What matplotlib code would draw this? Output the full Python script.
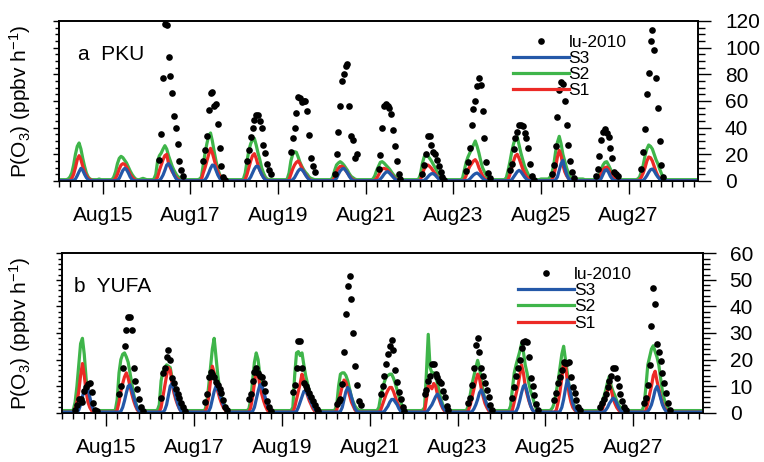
import numpy as np
import pandas as pd
import matplotlib
matplotlib.use("Agg")
import matplotlib.pyplot as plt
import matplotlib.dates as mdates

plt.rcParams['font.family'] = ['Liberation Sans', 'DejaVu Sans']
plt.rcParams['mathtext.fontset'] = 'custom'
plt.rcParams['mathtext.rm'] = 'Liberation Sans'
plt.rcParams['mathtext.it'] = 'Liberation Sans'

# ---------------- data (hourly, starting 2010-08-14 00:00) ----------------
start_time = "2010-08-14 00:00"
series_labels = ["S3", "S2", "S1"]
obs_label = "lu-2010"
panel_titles = ["a  PKU", "b  YUFA"]

# PKU model, one row per day (24 hourly values)
s2_pku_rows = [
    "1 1 1 1 1 1.5 3 6 12 20 26 28.5 24 17 11 6 3 1.5 1 1 1 1 1.5 1",
    "1 1 1 1 1 1 3 7 13 17 18.5 17.5 15.5 13.5 10.5 7.5 5 3 1.5 1 1 1.5 2 1.5",
    "1 1 1 1 1.5 5 15 19 21 24 26.5 24 19 15 11 8 5.5 3.5 2.5 2 1 1 1 1",
    "1 1 1 1 1 1.5 3 12 21 28 34 36 30 22 15 9 5 2.5 1.5 1 1 1 1 1",
    "1 1 1 1 1 1.5 6 15 23 28 31 32 27 21 16 10 6 3 1.5 1 1 1 1 1",
    "1 1 1 1 1 1.5 6 15 20 22 21.5 18 14 11 8.5 6.5 5 3 2 1.5 1 1 1 1",
    "1 1 1 1 1 1 3 8 12 13.5 14.5 13.5 12 10 8 5.5 3.5 2.5 1.5 1 1 1 1 1",
    "1 1 1 1 1.5 4 8 11 14 14.5 13.5 12 10.5 9 7 5 3.5 2.5 2 1.5 1 1 1 1",
    "1 1 1 1 1 1.5 5 13 18 20 19 17 15 12.5 10 7.5 5 3.5 2 1.5 1 1 1 1",
    "1 1 1 1 1 2 8 14 18 21 24 27 30 26 21 15 10 7 4 2.5 1.5 1 1 1",
    "1 1 1 1 1 2.5 8 14.5 22 28 32 33 27 21 16 11 8 5 3 1.5 1 1 1 1",
    "1.5 1.5 1.5 1.5 1.5 3 6 12 22 29 33.5 28 20 15 10 6 3 2 1.5 1.5 1.5 1.5 1.5 1.5",
    "1 1 1 1 1 1 1.5 2.5 5 8.5 12 14 14.5 12 9 6 4 2.5 1.5 1 1 1 1 1",
    "1 1 1 1 1 1.5 3 7 12 19 24 27 26 24 20 16 13 9 5.5 2.5 1.5 1 1 1",
    "1 1 1 1 1 1 1 1 1 1 1 1 1 1 1 1 1 1 1 1 1 1 1 1",
]
s1_pku_rows = [
    "0.3 0.3 0.3 0.3 0.3 0.3 0.5 2 5 10 16 19 16 11 7 4 2 1 0.5 0.3 0.3 0.3 0.3 0.3",
    "0.3 0.3 0.3 0.3 0.3 0.3 0.5 2 5 9 12 13 12.5 10.5 8 5 3 1.5 0.5 0.3 0.3 0.3 0.3 0.3",
    "0.3 0.3 0.3 0.3 0.3 0.5 3 8 12 16 19 20 13 10 7 5 3 1.5 0.5 0.3 0.3 0.3 0.3 0.3",
    "0.3 0.3 0.3 0.3 0.3 0.3 1 6 10 15 20 24.5 21 16 11 7 4 2 0.5 0.3 0.3 0.3 0.3 0.3",
    "0.3 0.3 0.3 0.3 0.3 0.3 1 5 10 15 19 20.5 17 12 8 5 3 1 0.5 0.3 0.3 0.3 0.3 0.3",
    "0.3 0.3 0.3 0.3 0.3 0.3 1 5 9 12 14 15 13 10 7 5 3 1.5 0.5 0.3 0.3 0.3 0.3 0.3",
    "0.3 0.3 0.3 0.3 0.3 0.3 0.5 3 7 9.5 11 11 10 8 6 4 2 1 0.5 0.3 0.3 0.3 0.3 0.3",
    "0.3 0.3 0.3 0.3 0.3 0.5 2 4.5 7 9 9.5 9 8 6.5 5 3.5 2 1 0.5 0.3 0.3 0.3 0.3 0.3",
    "0.3 0.3 0.3 0.3 0.3 0.3 1 5 9 11 12 11 9.5 7.5 5.5 3.5 2 1 0.5 0.3 0.3 0.3 0.3 0.3",
    "0.3 0.3 0.3 0.3 0.3 0.3 1 4 8 11 13 15 16 14 10 7 4 2 1 0.5 0.3 0.3 0.3 0.3",
    "0.3 0.3 0.3 0.3 0.3 0.3 1 5 10 15 19 20 17 13 9 6 3.5 2 0.5 0.3 0.3 0.3 0.3 0.3",
    "0.3 0.3 0.3 0.3 0.3 0.3 1 4 10 18 23 19 12 7 4 2 1 0.5 0.3 0.3 0.3 0.3 0.3 0.3",
    "0.3 0.3 0.3 0.3 0.3 0.3 0.3 1 3 6 8.5 10 10.5 9 6 3.5 2 1 0.5 0.3 0.3 0.3 0.3 0.3",
    "0.3 0.3 0.3 0.3 0.3 0.3 1 3 6 10 15 18 17.5 15 11 7 4 2 1 0.5 0.3 0.3 0.3 0.3",
    "0.3 0.3 0.3 0.3 0.3 0.3 0.3 0.3 0.3 0.3 0.3 0.3 0.3 0.3 0.3 0.3 0.3 0.3 0.3 0.3 0.3 0.3 0.3 0.3",
]
s3_pku_rows = [
    "0.2 0.2 0.2 0.2 0.2 0.2 0.2 0.2 0.5 1.5 4 7 9.5 8 5 2.5 1 0.3 0.2 0.2 0.2 0.2 0.2 0.2",
    "0.2 0.2 0.2 0.2 0.2 0.2 0.2 0.2 0.5 2 5 8 9.5 8.5 6 3 1 0.3 0.2 0.2 0.2 0.2 0.2 0.2",
    "0.2 0.2 0.2 0.2 0.2 0.2 0.2 0.5 2 4.5 8 12 13 11 8 4.5 2 0.5 0.2 0.2 0.2 0.2 0.2 0.2",
    "0.2 0.2 0.2 0.2 0.2 0.2 0.2 0.2 1 3 6 9.5 12 11.5 8 4.5 2 0.5 0.2 0.2 0.2 0.2 0.2 0.2",
    "0.2 0.2 0.2 0.2 0.2 0.2 0.2 0.2 1 3 6 9 11 11 8 5 2.5 1 0.3 0.2 0.2 0.2 0.2 0.2",
    "0.2 0.2 0.2 0.2 0.2 0.2 0.2 0.2 1 2.5 5 7.5 9 8.5 7 4.5 2.5 1 0.3 0.2 0.2 0.2 0.2 0.2",
    "0.2 0.2 0.2 0.2 0.2 0.2 0.2 0.5 2 5 7.5 9 9.5 8 6 3.5 1.5 0.5 0.2 0.2 0.2 0.2 0.2 0.2",
    "0.2 0.2 0.2 0.2 0.2 0.2 0.2 0.5 1.5 3 5 6.5 7 6 4.5 3 1.5 0.5 0.2 0.2 0.2 0.2 0.2 0.2",
    "0.2 0.2 0.2 0.2 0.2 0.2 0.2 0.2 0.5 1.5 3 4.5 5.5 5.5 4.5 3 1.5 0.5 0.2 0.2 0.2 0.2 0.2 0.2",
    "0.2 0.2 0.2 0.2 0.2 0.2 0.2 0.2 0.5 1.5 3 4.5 5.5 6 5 3.5 2 0.8 0.3 0.2 0.2 0.2 0.2 0.2",
    "0.2 0.2 0.2 0.2 0.2 0.2 0.2 0.2 1 3 5 7 8 7 5 3 1.5 0.5 0.2 0.2 0.2 0.2 0.2 0.2",
    "0.2 0.2 0.2 0.2 0.2 0.2 0.2 0.2 1 3 8 13 15.5 10 5 2 0.8 0.3 0.2 0.2 0.2 0.2 0.2 0.2",
    "0.2 0.2 0.2 0.2 0.2 0.2 0.2 0.2 0.5 2 5 8 8.5 6.5 3.5 1.5 0.5 0.2 0.2 0.2 0.2 0.2 0.2 0.2",
    "0.2 0.2 0.2 0.2 0.2 0.2 0.2 0.2 0.5 2 4 6.5 8.5 9 7.5 5 3 1.5 0.5 0.2 0.2 0.2 0.2 0.2",
    "0.2 0.2 0.2 0.2 0.2 0.2 0.2 0.2 0.2 0.2 0.2 0.2 0.2 0.2 0.2 0.2 0.2 0.2 0.2 0.2 0.2 0.2 0.2 0.2",
]

# YUFA model
s2_yufa_rows = [
    "0.8 0.8 0.8 0.8 0.8 0.8 1 4 10 18 26 28 22 13 7 3.5 1.5 1 0.8 0.8 0.8 0.8 0.8 0.8",
    "0.8 0.8 0.8 0.8 0.8 1 5 15 20 22 22.5 21 19 15 11 7 4 2 1 0.8 0.8 0.8 0.8 0.8",
    "0.8 0.8 0.8 0.8 1 3 12 15.5 17 18 17.5 17 13 9.5 7 5.5 4 2.5 1.5 1 0.8 0.8 0.8 0.8",
    "0.8 0.8 0.8 0.8 0.8 0.8 1 4 10 17 24 28 21 14 9 6 4 2.5 1.5 1 0.8 0.8 0.8 0.8",
    "0.8 0.8 0.8 0.8 0.8 0.8 1.5 5 12 19 22.5 20 14 10 6 4 2 1 0.8 0.8 0.8 0.8 0.8 0.8",
    "0.8 0.8 0.8 0.8 0.8 0.8 2 14 22.5 23 21.5 22.5 18 14 11 8 6 4.5 3 1.5 1 0.8 0.8 0.8",
    "0.8 0.8 0.8 0.8 0.8 1 3 10 14.5 15 15 14 12 9 6 4 2.5 1.5 1 0.8 0.8 0.8 0.8 0.8",
    "0.8 0.8 0.8 0.8 0.8 2 6 9 11.5 13.5 14 14.5 14.5 13 11 8.5 6 4 2 1 0.8 0.8 0.8 0.8",
    "0.8 0.8 0.8 0.8 0.8 1 2 15 29.5 17 15 15 14 11 8 5 3 1.5 1 0.8 0.8 0.8 0.8 0.8",
    "0.8 0.8 0.8 0.8 0.8 1 3 7 11 14 17 19.7 17 12 8 5 3 1.5 1 0.8 0.8 0.8 0.8 0.8",
    "0.8 0.8 0.8 0.8 0.8 2.5 9 15 18 20.5 23 26 23 18 15 11 8 6 3.5 1.5 1 0.8 0.8 0.8",
    "0.8 0.8 0.8 1 2 4 8 12 17 22 25 20 15 10 6.5 4 2.5 1.5 1 0.8 0.8 0.8 0.8 0.8",
    "0.8 0.8 0.8 0.8 0.8 1 2 4 6 8.5 11.5 13.7 10 8 6.5 4.5 3 2 1 0.8 0.8 0.8 0.8 0.8",
    "0.8 0.8 0.8 0.8 0.8 1 3 10 18 21 24 25.2 23 21 18 13 8 5 3 1.5 1 0.8 0.8 0.8",
    "0.8 0.8 0.8 0.8 0.8 0.8 0.8 0.8 0.8 0.8 0.8 0.8 0.8 0.8 0.8 0.8 0.8 0.8 0.8 0.8 0.8 0.8 0.8 0.8",
]
s1_yufa_rows = [
    "0.2 0.2 0.2 0.2 0.2 0.2 0.2 1.5 4 8 14 18.5 14 8 4 2 0.8 0.3 0.2 0.2 0.2 0.2 0.2 0.2",
    "0.2 0.2 0.2 0.2 0.2 0.2 1 4 8 11 13.5 15 13 10 7 4.5 2.5 1 0.3 0.2 0.2 0.2 0.2 0.2",
    "0.2 0.2 0.2 0.2 0.2 0.2 2 6 10 14 17 16 11 7.5 5 3 1.5 0.5 0.2 0.2 0.2 0.2 0.2 0.2",
    "0.2 0.2 0.2 0.2 0.2 0.2 0.2 2 6 12 17.5 15 11 8 5.5 3.5 2 1 0.3 0.2 0.2 0.2 0.2 0.2",
    "0.2 0.2 0.2 0.2 0.2 0.2 0.2 2 6 11 16 15 10 7 4.5 2.5 1 0.3 0.2 0.2 0.2 0.2 0.2 0.2",
    "0.2 0.2 0.2 0.2 0.2 0.2 0.2 2 5 8 11 14.5 12 9 6.5 4.5 3 1.5 0.5 0.2 0.2 0.2 0.2 0.2",
    "0.2 0.2 0.2 0.2 0.2 0.2 1 4 7 10 12.3 11.5 9 6.5 4 2.5 1 0.3 0.2 0.2 0.2 0.2 0.2 0.2",
    "0.2 0.2 0.2 0.2 0.2 0.2 1 3 5 7 8.5 9.5 9.5 8 6 4 2.5 1 0.3 0.2 0.2 0.2 0.2 0.2",
    "0.2 0.2 0.2 0.2 0.2 0.2 0.5 5 10 10 9 11 10 7 5 3 1.5 0.5 0.2 0.2 0.2 0.2 0.2 0.2",
    "0.2 0.2 0.2 0.2 0.2 0.2 1 3 6 9 12 14.5 13 9 6 3.5 2 0.8 0.2 0.2 0.2 0.2 0.2 0.2",
    "0.2 0.2 0.2 0.2 0.2 0.2 1 4 7 10 14 18 15 10 7 4.5 2.5 1 0.3 0.2 0.2 0.2 0.2 0.2",
    "0.2 0.2 0.2 0.2 0.2 0.2 1 4 8 13 19 18 12 7 4 2 1 0.3 0.2 0.2 0.2 0.2 0.2 0.2",
    "0.2 0.2 0.2 0.2 0.2 0.2 0.2 1 3 5.5 8.5 10.8 8.5 5.5 3.5 2 1 0.3 0.2 0.2 0.2 0.2 0.2 0.2",
    "0.2 0.2 0.2 0.2 0.2 0.2 0.2 1 3.5 7 10 14 15.6 12 9 6 3.5 2 1 0.3 0.2 0.2 0.2 0.2",
    "0.2 0.2 0.2 0.2 0.2 0.2 0.2 0.2 0.2 0.2 0.2 0.2 0.2 0.2 0.2 0.2 0.2 0.2 0.2 0.2 0.2 0.2 0.2 0.2",
]
s3_yufa_rows = [
    "0.2 0.2 0.2 0.2 0.2 0.2 0.2 0.2 0.2 1 3 6 8.5 9.5 9 6 3 1 0.3 0.2 0.2 0.2 0.2 0.2",
    "0.2 0.2 0.2 0.2 0.2 0.2 0.2 0.2 0.5 2 4.5 7.5 10 10.5 8.5 6 3.5 1.5 0.5 0.2 0.2 0.2 0.2 0.2",
    "0.2 0.2 0.2 0.2 0.2 0.2 0.2 0.2 1 3 6.5 10 11 9 6 3.5 1.5 0.5 0.2 0.2 0.2 0.2 0.2 0.2",
    "0.2 0.2 0.2 0.2 0.2 0.2 0.2 0.2 0.5 2 5 8 10 9 7 5 3 1.5 0.5 0.2 0.2 0.2 0.2 0.2",
    "0.2 0.2 0.2 0.2 0.2 0.2 0.2 0.2 0.5 2 5 8 10.5 10.5 8 5.5 3 1.5 0.5 0.2 0.2 0.2 0.2 0.2",
    "0.2 0.2 0.2 0.2 0.2 0.2 0.2 0.2 0.5 2 4 6 8 8.3 7 5.5 4 2.5 1.2 0.5 0.2 0.2 0.2 0.2",
    "0.2 0.2 0.2 0.2 0.2 0.2 0.2 0.2 0.5 2 5 8 9.5 8.5 6 3.5 1.5 0.5 0.2 0.2 0.2 0.2 0.2 0.2",
    "0.2 0.2 0.2 0.2 0.2 0.2 0.2 0.2 0.5 1.5 2.5 4 5 5 4 3 1.5 0.5 0.2 0.2 0.2 0.2 0.2 0.2",
    "0.2 0.2 0.2 0.2 0.2 0.2 0.2 0.2 1 2 3 4.5 6 7 6 4 2 1 0.3 0.2 0.2 0.2 0.2 0.2",
    "0.2 0.2 0.2 0.2 0.2 0.2 0.2 0.2 0.5 1.5 3 5 7.5 8.6 7 5 3 1.5 0.5 0.2 0.2 0.2 0.2 0.2",
    "0.2 0.2 0.2 0.2 0.2 0.2 0.2 0.2 0.5 2 4.5 7.5 10 10.5 8 5 2.5 1 0.3 0.2 0.2 0.2 0.2 0.2",
    "0.2 0.2 0.2 0.2 0.2 0.2 0.2 0.2 0.5 2 5 9 12.4 10 6.5 3.5 1.5 0.5 0.2 0.2 0.2 0.2 0.2 0.2",
    "0.2 0.2 0.2 0.2 0.2 0.2 0.2 0.2 0.3 1 2 3.5 4.5 5.5 5 3.5 2 0.8 0.3 0.2 0.2 0.2 0.2 0.2",
    "0.2 0.2 0.2 0.2 0.2 0.2 0.2 0.2 0.5 1.5 3 5.5 8.5 9.9 8 5.5 3 1.5 0.5 0.2 0.2 0.2 0.2 0.2",
    "0.2 0.2 0.2 0.2 0.2 0.2 0.2 0.2 0.2 0.2 0.2 0.2 0.2 0.2 0.2 0.2 0.2 0.2 0.2 0.2 0.2 0.2 0.2 0.2",
]

# Observations (lu-2010): day of August, first hour, hourly values
obs_pku_day = [16, 17, 18, 19, 20, 21, 22, 23, 24, 25, 26, 27]
obs_pku_start = [7, 7, 7, 7, 7, 7, 7, 7, 7, 6, 6, 7]
obs_pku_vals = [
    [16, 35, 77, 118, 117, 93, 79, 66, 49, 40, 28, 15, 8, 4],
    [15, 23, 34, 53, 66, 67, 56, 58, 43, 25, 11, 3, 1],
    [15, 23, 33, 40, 46, 49.5, 49.5, 45, 40, 27, 21, 13, 8, 5],
    [21.5, 32.5, 40, 51, 63, 62, 59, 60, 60, 52.5, 34.5, 17.5, 11, 7],
    [5, 20, 37, 56, 75, 80, 86, 88, 56, 34, 31, 17, 20],
    [9, 19.5, 39.5, 56, 57.5, 56.5, 55, 50, 38, 26, 15, 5, 1.5],
    [5, 12, 20, 34, 34, 27, 22, 20, 16, 11, 7, 3, 1],
    [7.5, 14, 25, 42, 54, 60, 71, 77, 72, 52.5, 32.5, 14, 6, 2],
    [8, 13, 24, 32, 37, 42, 42, 41, 36, 32, 25, 13, 4, 1],
    [5, 12, 26, 48, 68, 74, 73, 60, 42, 27, 15, 7, 2],
    [4, 9, 19, 31, 37, 39, 36, 33, 25, 17, 7, 5, 4],
    [9, 22, 39, 65, 81, 105, 113, 98, 77, 55, 30, 12, 3],
]
obs_yufa_day = [14, 15, 16, 17, 18, 19, 20, 21, 22, 23, 24, 25, 26, 27]
obs_yufa_start = [7, 7, 6, 6, 6, 6, 6, 6, 6, 6, 6, 5, 6, 6]
obs_yufa_vals = [
    [1, 3, 5, 5, 4, 8, 9.5, 10.8, 11.2, 7.8, 3.7, 1.1, 0.5],
    [7, 10, 17, 25, 31, 36, 36, 31, 17, 12, 9, 5, 2, 0.5],
    [5.5, 15, 17, 21, 23.5, 20, 13, 11, 9, 7, 5.5, 3.7, 2, 0.8],
    [4, 7, 13.6, 15.4, 14.6, 13.6, 11.7, 10.4, 8.8, 7.3, 4.8, 2.3, 1],
    [5, 7, 12, 15.5, 17, 15, 14, 13.5, 11, 8, 4.5, 2, 0.5],
    [7.8, 10.5, 17, 27, 27, 17, 11, 10, 9, 7.5, 6, 4.5, 3, 1.5, 0.7],
    [3.3, 4.5, 5, 10.8, 22.8, 37, 47.6, 51.3, 42.8, 30, 17.5, 10.3, 4.3, 2.8],
    [7, 10, 14, 18.5, 22, 25, 27.5, 23.5, 16, 11.5, 7.8, 5, 2, 0.5],
    [7, 8.7, 12, 13.7, 18.3, 18.3, 14.5, 13.3, 12, 11, 8.3, 6, 2.4, 0.9],
    [3.5, 5.4, 10.4, 17, 25.5, 28, 23, 17, 14, 11, 8.5, 6, 3, 1],
    [5.5, 9.5, 13.7, 16.8, 20, 24.4, 26.5, 27.1, 26.5, 21, 13, 9.9, 6.8, 3.3, 1.1],
    [4.8, 7.3, 11, 13.6, 16, 19.2, 18.6, 18.6, 19.2, 13.6, 9.8, 7.3, 4.8, 2.3, 1],
    [2, 3.5, 5, 7, 9.5, 12, 14, 17, 17, 13, 10, 7, 4.5, 2.3, 1],
    [3.5, 5.4, 10.4, 17.9, 32.6, 47, 41, 26, 23, 19.5, 14.8, 11, 7.3, 3.5, 1],
]

y_max = [120, 60]
y_major = [20, 10]
y_minor = [5, 2]
label_days = [15, 17, 19, 21, 23, 25, 27]
x_end = "2010-08-28 14:00"

# ---------------- helpers ----------------
def flat(rows):
    return np.array([float(v) for r in rows for v in r.split()])

def obs_series(days, starts, vals):
    t, v = [], []
    for d, s, vs in zip(days, starts, vals):
        base = pd.Timestamp(2010, 8, d, s)
        for i, val in enumerate(vs):
            t.append(base + pd.Timedelta(hours=i))
            v.append(val)
    return pd.to_datetime(t), np.array(v)

colors = {"S1": "#ec2a26", "S2": "#3fb54a", "S3": "#2458a8"}

fig = plt.figure(figsize=(7.64, 4.62), dpi=100)
W, H = 764.0, 462.0
geo = [(59, 181, 639, 160), (62.3, 412.7, 640.4, 159.4)]
axes = [fig.add_axes([l / W, 1 - b / H, w / W, h / H]) for (l, b, w, h) in geo]

panels = [
    (s1_pku_rows, s2_pku_rows, s3_pku_rows, obs_pku_day, obs_pku_start, obs_pku_vals),
    (s1_yufa_rows, s2_yufa_rows, s3_yufa_rows, obs_yufa_day, obs_yufa_start, obs_yufa_vals),
]

for k, (ax, (r1, r2, r3, od, os_, ov)) in enumerate(zip(axes, panels)):
    s1, s2, s3 = flat(r1), flat(r2), flat(r3)
    t = pd.date_range(start_time, periods=len(s1), freq="h")
    l2, = ax.plot(t, s2, color=colors["S2"], lw=2.3, solid_joinstyle='round', zorder=2)
    l1, = ax.plot(t, s1, color=colors["S1"], lw=2.3, solid_joinstyle='round', zorder=3)
    l3, = ax.plot(t, s3, color=colors["S3"], lw=2.3, solid_joinstyle='round', zorder=4)
    ot, ovals = obs_series(od, os_, ov)
    lo, = ax.plot(ot, ovals, 'o', color='black', ms=4.8, mew=0, zorder=5)

    ax.set_xlim(pd.Timestamp(start_time), pd.Timestamp(x_end))
    ax.set_ylim(0, y_max[k])
    ax.set_yticks(np.arange(0, y_max[k] + 1, y_major[k]))
    ax.set_yticks(np.arange(0, y_max[k] + 0.1, y_minor[k]), minor=True)
    ax.xaxis.set_major_locator(mdates.DayLocator(bymonthday=label_days))
    ax.xaxis.set_minor_locator(mdates.HourLocator(byhour=[0, 6, 12, 18]))
    ax.xaxis.set_major_formatter(mdates.DateFormatter('%b%d'))

    ax.tick_params(axis='x', which='both', direction='out', top=False, bottom=True,
                   labelsize=15, pad=9, width=1.0)
    ax.tick_params(axis='x', which='major', length=9.2)
    ax.tick_params(axis='x', which='minor', length=4.4)
    # left side: short ticks, no labels
    ax.tick_params(axis='y', which='both', direction='out', left=True, right=False,
                   labelleft=False, labelright=False, width=1.0)
    ax.tick_params(axis='y', which='major', length=4.5)
    ax.tick_params(axis='y', which='minor', length=3.0)
    for sp in ax.spines.values():
        sp.set_linewidth(1.2)

    # right side: long ticks with labels
    axr = ax.twinx()
    axr.set_ylim(0, y_max[k])
    axr.set_yticks(np.arange(0, y_max[k] + 1, y_major[k]))
    axr.set_yticks(np.arange(0, y_max[k] + 0.1, y_minor[k]), minor=True)
    axr.tick_params(axis='y', which='both', direction='out', right=True, labelright=True,
                    labelsize=15, width=1.0, pad=10)
    axr.tick_params(axis='y', which='major', length=9.4)
    axr.tick_params(axis='y', which='minor', length=4.8)
    for sp in axr.spines.values():
        sp.set_linewidth(1.2)

    ax.set_ylabel(r'P(O$_3$) (ppbv h$^{-1}$)', fontsize=15)
    ax.yaxis.set_label_coords((33 - geo[k][0]) / geo[k][2], 0.5)

    ax.text(0.029 if k == 0 else 0.018, 0.756 if k == 0 else 0.759, panel_titles[k],
            transform=ax.transAxes, fontsize=15, va='baseline', ha='left')

    ax.legend([lo, l3, l2, l1], [obs_label] + series_labels, loc='upper left',
              bbox_to_anchor=(0.7105 if k == 0 else 0.712, 0.915), frameon=False,
              fontsize=12.5, handlelength=3.2, handletextpad=0.0, labelspacing=0.06,
              borderpad=0, borderaxespad=0, numpoints=1)

fig.savefig("out.png", dpi=100)
